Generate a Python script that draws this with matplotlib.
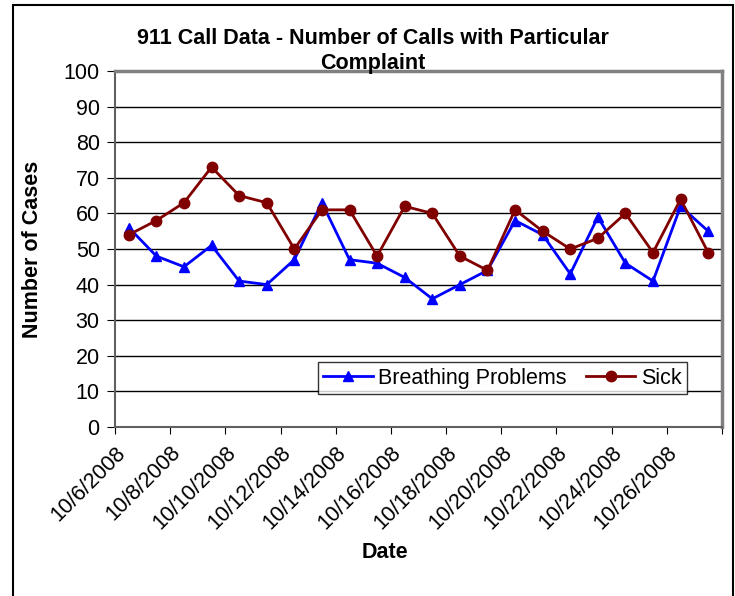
import matplotlib.pyplot as plt
from matplotlib.patches import Rectangle

plt.rcParams['font.family'] = ['Liberation Sans', 'DejaVu Sans']

dates = ['10/%d/2008' % d for d in range(6, 28)]
breathing = [56, 48, 45, 51, 41, 40, 47, 63, 47, 46, 42, 36, 40, 44, 58, 54, 43, 59, 46, 41, 62, 55]
sick = [54, 58, 63, 73, 65, 63, 50, 61, 61, 48, 62, 60, 48, 44, 61, 55, 50, 53, 60, 49, 64, 49]
tick_labels = dates[::2]
y_ticks = list(range(0, 101, 10))

FS = 15.5


def main():
    fig = plt.figure(figsize=(7.35, 5.96), dpi=100)
    ax = fig.add_axes([115 / 735, 1 - 427 / 596, 607 / 735, 356 / 596])

    x = list(range(len(dates)))
    ax.plot(x, breathing, color='#0000FF', lw=2, marker='^', ms=7.5,
            label='Breathing Problems', zorder=3)
    ax.plot(x, sick, color='#800000', lw=2, marker='o', ms=7.5,
            label='Sick', zorder=3)

    ax.set_xlim(-0.5, len(dates) - 0.5)
    ax.set_ylim(0, 100)
    ax.set_yticks(y_ticks)
    ax.yaxis.grid(True, color='black', lw=1)
    ax.set_axisbelow(True)

    ax.set_xticks([i - 0.5 for i in range(0, len(dates) + 1, 2)])
    ax.set_xticklabels(tick_labels + [''], rotation=45, ha='right',
                       rotation_mode='anchor', fontsize=FS)
    ax.tick_params(axis='x', direction='out', length=5, pad=6, color='black')
    ax.tick_params(axis='y', direction='out', length=6, pad=5, labelsize=FS)

    for s in ['top', 'right']:
        ax.spines[s].set_color('#808080')
        ax.spines[s].set_linewidth(2.5)
    for s in ['left', 'bottom']:
        ax.spines[s].set_color('#606060')
        ax.spines[s].set_linewidth(1.5)

    ax.set_ylabel('Number of Cases', fontsize=FS, fontweight='bold', va='center')
    ax.yaxis.set_label_coords(-(115 - 33) / 607, 0.5)
    ax.set_xlabel('Date', fontsize=FS, fontweight='bold', va='center')
    ax.xaxis.set_label_coords((385 - 115) / 607, -(553 - 427) / 356)

    fig.text(373 / 735, 1 - 51 / 596, '911 Call Data - Number of Calls with Particular\nComplaint',
             ha='center', va='center', fontsize=FS, fontweight='bold',
             linespacing=1.25, zorder=5)

    leg = ax.legend(loc='lower left', bbox_to_anchor=(0.334, 0.093), ncol=2,
                    fontsize=FS, frameon=True, fancybox=False,
                    handlelength=2.3, handletextpad=0.25, columnspacing=0.9,
                    borderpad=0.25, borderaxespad=0)
    leg.get_frame().set_edgecolor('black')
    leg.get_frame().set_linewidth(1)

    fig.patches.append(Rectangle((13 / 735, -0.05), (733 - 13) / 735, 1.05 - 5 / 596,
                                 transform=fig.transFigure, fill=False,
                                 edgecolor='black', lw=1.5))

    plt.savefig('out.png', dpi=100)


if __name__ == "__main__":
    main()
